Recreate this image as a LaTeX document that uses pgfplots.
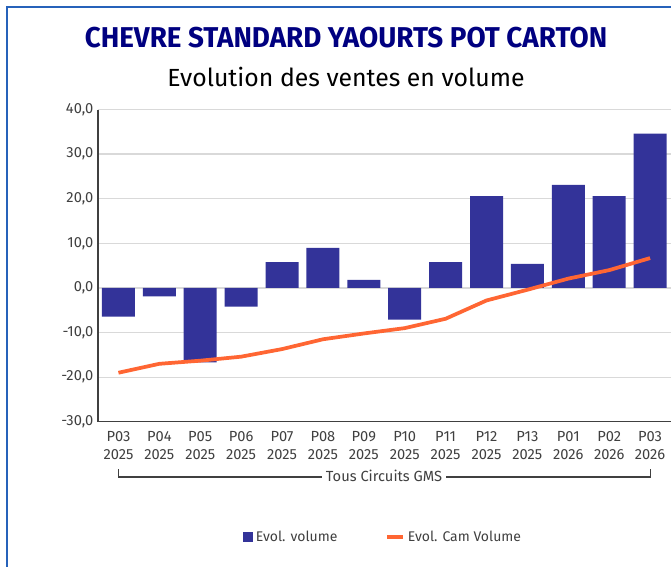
\documentclass[border=0pt]{standalone}
\usepackage{fontspec}
\usepackage{pgfplots}
\pgfplotsset{compat=1.18}
\setmainfont{Fira Sans}
\newfontfamily\titlefont[FakeStretch=0.97]{Fira Sans}
\definecolor{barblue}{RGB}{51,51,153}
\definecolor{camorange}{RGB}{255,102,51}
\definecolor{navytitle}{RGB}{0,0,128}
\definecolor{frameblue}{RGB}{38,98,186}
\definecolor{gridgray}{RGB}{217,217,217}
\definecolor{labgray}{RGB}{64,64,64}

\begin{document}
\begin{tikzpicture}[x=0.75pt,y=-0.75pt]
\useasboundingbox (0,0) rectangle (671,567);
% frame (left and top edges visible)
\draw[frameblue,line width=1.6pt] (7,567) -- (7,7) -- (671,7);
\node[font=\titlefont\bfseries\fontsize{21.5}{24}\selectfont,text=navytitle] at (346,37.5) {CHEVRE STANDARD YAOURTS POT CARTON};
\node[font=\fontsize{18.6}{22}\selectfont,text=black] at (346,77) {Evolution des ventes en volume};

\begin{axis}[at={(73.5pt,-316.35pt)},anchor=south west,
  scale only axis,width=429.4pt,height=234.2pt,
  xmin=-0.5,xmax=13.5,ymin=-30,ymax=40,
  ytick={-30,-20,...,40},
  yticklabels={{-30,0},{-20,0},{-10,0},{0,0},{10,0},{20,0},{30,0},{40,0}},
  xtick={0,...,13},
  xticklabels={P03\\2025,P04\\2025,P05\\2025,P06\\2025,P07\\2025,P08\\2025,P09\\2025,
    P10\\2025,P11\\2025,P12\\2025,P13\\2025,P01\\2026,P02\\2026,P03\\2026},
  xticklabel style={align=center,font=\fontsize{11}{13.3}\selectfont,text=labgray,yshift=-3.5pt},
  yticklabel style={font=\fontsize{11}{12}\selectfont,text=labgray},
  major tick length=0pt,
  axis x line*=bottom,axis y line*=left,
  axis line style={labgray,line width=0.9pt,-},
  ymajorgrids,grid style={gridgray,line width=1pt},
  clip=false,
  legend style={at={(0.498,-0.369)},anchor=center,draw=none,
    legend columns=2,font=\fontsize{10.5}{12}\selectfont,text=labgray,
    /tikz/every even column/.append style={column sep=34pt}},
  legend cell align=left]
\addplot[ybar,bar width=24.75pt,fill=barblue,draw=none,
  legend image code/.code={\fill[barblue] (0pt,-4pt) rectangle (8pt,4pt);}]
  coordinates {(0,-6.4) (1,-1.9) (2,-16.7) (3,-4.2) (4,5.8) (5,9.0) (6,1.8)
    (7,-7.1) (8,5.8) (9,20.6) (10,5.4) (11,23.1) (12,20.6) (13,34.6)};
\addlegendentry{Evol. volume}
\addplot[camorange,line width=2.8pt,mark=none,
  legend image code/.code={\draw[camorange,line width=2.8pt] (0pt,0pt) -- (12pt,0pt);}]
  coordinates {(0,-19.0) (1,-17.0) (2,-16.3) (3,-15.4) (4,-13.7) (5,-11.5) (6,-10.2)
    (7,-9.0) (8,-6.9) (9,-2.8) (10,-0.4) (11,2.1) (12,4.0) (13,6.7)};
\addlegendentry{Evol. Cam Volume}
\coordinate (b0) at (axis cs:0,-30);
\coordinate (b13) at (axis cs:13,-30);
\end{axis}
% category bracket
\draw[labgray,line width=0.8pt] (b0 |- {(0,469)}) -- (b0 |- {(0,477)}) -- (b13 |- {(0,477)}) -- (b13 |- {(0,469)});
\node[fill=white,inner xsep=3pt,inner ysep=1pt,text=labgray,font=\fontsize{11}{12}\selectfont] at (384,476) {Tous Circuits GMS};
\end{tikzpicture}
\end{document}
